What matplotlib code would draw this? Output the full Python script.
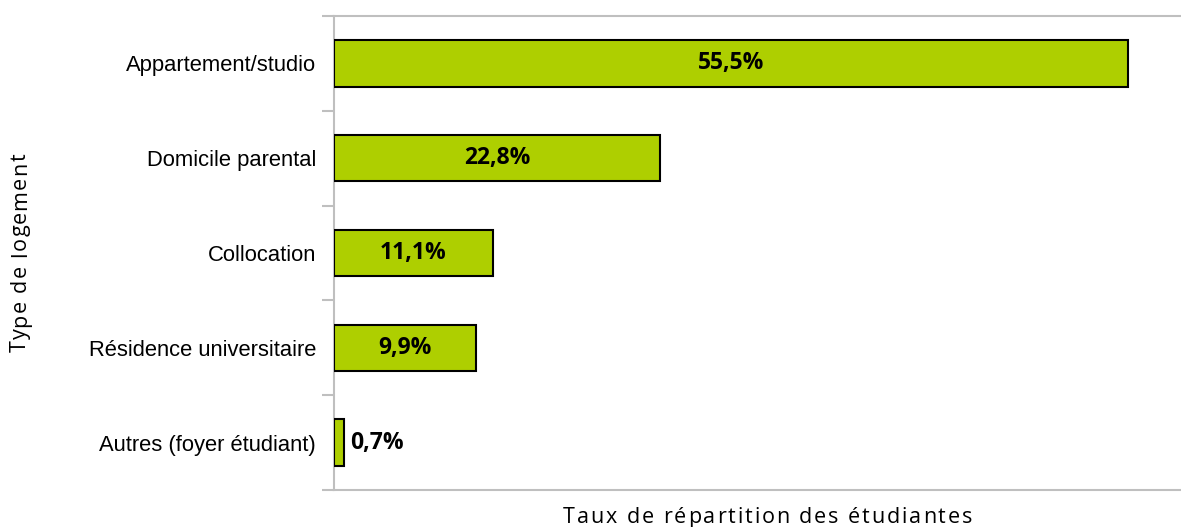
import matplotlib
matplotlib.use("Agg")
import matplotlib.pyplot as plt
from matplotlib.transforms import IdentityTransform
from matplotlib.font_manager import FontProperties
import numpy as np

categories = ["Appartement/studio", "Domicile parental", "Collocation",
              "Résidence universitaire", "Autres (foyer étudiant)"]
values = [55.5, 22.8, 11.1, 9.9, 0.7]
labels = ["55,5%", "22,8%", "11,1%", "9,9%", "0,7%"]
x_title = "Taux de répartition des étudiantes"
y_title = "Type de logement"

W, H = 1181, 527
fig = plt.figure(figsize=(W/100, H/100), dpi=100)
ax = fig.add_axes([334/W, 1-490/H, 1-334/W, (490-16)/H])

y = np.arange(len(categories))
ax.barh(y, values, height=0.49, color="#AECF00", edgecolor="black", linewidth=1.5, zorder=3)
ax.set_ylim(len(categories)-0.5, -0.5)
ax.set_xlim(0, 59.2)

ax.set_yticks(y)
ax.set_yticklabels(categories, fontsize=15.8, family="Liberation Sans")
ax.tick_params(axis="y", which="major", length=0, pad=13)
ax.set_yticks(np.arange(-0.5, len(categories)), minor=True)
ax.tick_params(axis="y", which="minor", length=9, width=1.5, color="#BFBFBF", direction="out")
ax.set_xticks([])

for s in ["left", "top", "bottom"]:
    ax.spines[s].set_color("#BFBFBF")
    ax.spines[s].set_linewidth(1.5)
ax.spines["right"].set_visible(False)

for yi, v, lab in zip(y, values, labels):
    if v > 5:
        ax.text(v/2, yi, lab, ha="center", va="center", fontsize=16.5,
                fontweight="bold", family="Open Sans", zorder=4)
    else:
        ax.text(v + 0.45, yi, lab, ha="left", va="center", fontsize=16.5,
                fontweight="bold", family="Open Sans", zorder=4)

renderer = fig.canvas.get_renderer()


def spaced_text(s, start, base, total, fontsize, vertical=False):
    """Draw text with letter spacing so it spans `total` pixels."""
    fp = FontProperties(family="Open Sans", size=fontsize)
    widths = [renderer.get_text_width_height_descent(s[:i], fp, ismath=False)[0] if i else 0.0
              for i in range(len(s) + 1)]
    natural = widths[-1]
    extra = (total - natural) / (len(s) - 1)
    for i, ch in enumerate(s):
        off = widths[i] + i * extra
        if vertical:
            fig.text(base, start + off, ch, rotation=90, rotation_mode="anchor",
                     ha="left", va="baseline", fontproperties=fp,
                     transform=IdentityTransform())
        else:
            fig.text(start + off, base, ch, ha="left", va="baseline",
                     fontproperties=fp, transform=IdentityTransform())


spaced_text(x_title, 563, H - 523, 409, 15.5)
spaced_text(y_title, H - 352, 26, 199, 15.5, vertical=True)

fig.savefig("out.png", dpi=100)
